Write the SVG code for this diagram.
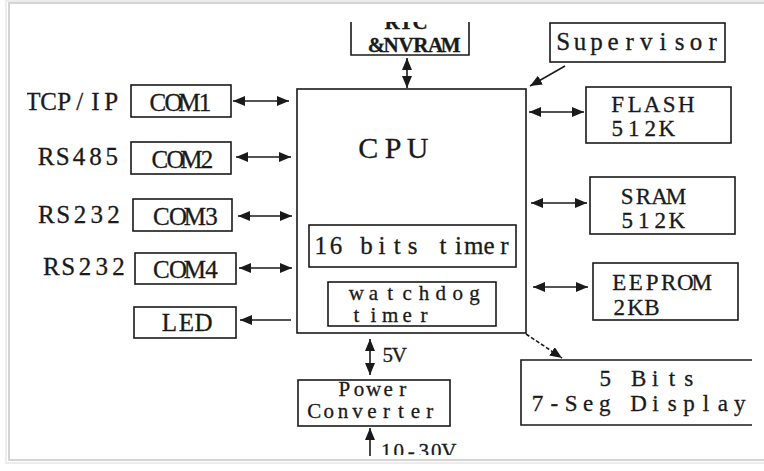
<svg xmlns="http://www.w3.org/2000/svg" width="764" height="471" viewBox="0 0 764 471">
<style>
.box{fill:none;stroke:#1a1a1a;stroke-width:1.6}
.ln{fill:none;stroke:#1a1a1a;stroke-width:1.6}
.t{font-family:'Liberation Serif','DejaVu Serif',serif;fill:#1a1a1a;stroke:#1a1a1a;stroke-width:0.3;font-size:25px;text-anchor:middle}
.m{font-size:23px}
.s{font-size:21px}
.b{font-size:30px}
</style>
<defs>
<marker id="ah" markerUnits="userSpaceOnUse" markerWidth="12" markerHeight="10" refX="12" refY="5" orient="auto-start-reverse" viewBox="0 0 12 10">
<path d="M0,0 L12,5 L0,10 z" fill="#1a1a1a"/>
</marker>
<clipPath id="cTop"><rect x="0" y="22" width="764" height="449"/></clipPath>
<clipPath id="cLeft"><rect x="27" y="0" width="737" height="471"/></clipPath>
<clipPath id="cBot"><rect x="0" y="0" width="764" height="455"/></clipPath>
</defs>
<rect x="0" y="0" width="764" height="471" fill="#ffffff"/>
<g id="frame">
<rect x="9" y="3" width="770" height="457" fill="none" stroke="#d4d4d4" stroke-width="2"/>
<rect x="6" y="1" width="776" height="462" fill="none" stroke="#ececec" stroke-width="2"/>
</g>
<g id="rtc">
<path class="box" d="M351,22 V55 H469 V22"/>
<text class="t s" x="392 406 420" y="29" font-size="17" font-weight="bold" clip-path="url(#cTop)">RTC</text>
<text class="t s" x="376.4 391.2 406 420.9 435.7 450.6" y="52" font-size="18" font-weight="bold">&amp;NVRAM</text>
</g>
<g id="cpu">
<rect class="box" x="297" y="89" width="229" height="244"/>
<text class="t b" x="368.3 393 417.7" y="158">CPU</text>
</g>
<g id="timer16">
<rect class="box" x="309" y="225" width="207" height="42"/>
<text class="t" x="320.7 336 351.3 366.6 381.9 397.2 412.5 427.8 443.1 458.4 473.8 489.1 504.3" y="254">16 bits timer</text>
</g>
<g id="watchdog">
<rect class="box" x="328" y="282" width="168" height="44"/>
<text class="t s" x="356.4 373.3 390.2 407.1 423.9 440.8 457.7 474.6" y="300">watchdog</text>
<text class="t s" x="356.4 373.3 390.2 407.1 423.9" y="322">timer</text>
</g>
<g id="com1">
<rect class="box" x="131" y="85" width="100" height="32"/>
<text class="t" x="157.9 173.6 189.4 205.1" y="111">COM1</text>
<text class="t" x="32.8 48.5 64.2 79.8 95.5 111.2" y="110" clip-path="url(#cLeft)">TCP/IP</text>
</g>
<g id="com2">
<rect class="box" x="131" y="142" width="100" height="32"/>
<text class="t" x="159.9 175.6 191.4 207.1" y="168">COM2</text>
<text class="t" x="46.2 62.6 79 95.4 111.8" y="165">RS485</text>
</g>
<g id="com3">
<rect class="box" x="133" y="199" width="99" height="32"/>
<text class="t" x="161.4 178.1 194.9 211.6" y="225">COM3</text>
<text class="t" x="46.4 63.2 80 96.8 113.6" y="223">RS232</text>
</g>
<g id="com4">
<rect class="box" x="135" y="253" width="101" height="31"/>
<text class="t" x="161.4 178.1 194.9 211.6" y="278">COM4</text>
<text class="t" x="51.4 68.2 85 101.8 118.6" y="275">RS232</text>
</g>
<g id="led">
<rect class="box" x="134" y="307" width="102" height="31"/>
<text class="t" x="169.5 186.5 203.5" y="331">LED</text>
</g>
<g id="power">
<rect class="box" x="298" y="380" width="152" height="46"/>
<text class="t s" x="344.3 358.9 373.5 388.1 402.7" y="396" font-size="16">Power</text>
<text class="t s" x="314.2 328.7 343.1 357.5 372 386.4 400.9 415.3 429.8" y="418" font-size="16">Converter</text>
</g>
<g id="supervisor">
<rect class="box" x="550" y="23" width="175" height="39"/>
<text class="t" x="563.3 579.9 596.5 613.1 629.7 646.3 662.9 679.5 696.1 712.7" y="50">Supervisor</text>
</g>
<g id="flash">
<rect class="box" x="586" y="87" width="145" height="56"/>
<text class="t m" x="617.6 634.8 652 669.2 686.4" y="112">FLASH</text>
<text class="t m" x="617.25 633.75 650.25 666.75" y="136">512K</text>
</g>
<g id="sram">
<rect class="box" x="590" y="177" width="145" height="57"/>
<text class="t m" x="627.1 643.4 659.6 675.9" y="204">SRAM</text>
<text class="t m" x="627.25 643.75 660.25 676.75" y="228">512K</text>
</g>
<g id="eeprom">
<rect class="box" x="593" y="263" width="145" height="57"/>
<text class="t m" x="619.25 635.75 652.25 668.75 685.25 701.75" y="290">EEPROM</text>
<text class="t m" x="619.2 635.5 651.8" y="315">2KB</text>
</g>
<g id="display">
<path class="box" d="M752,360 H521 V425 H752"/>
<text class="t m" x="605.3 622 638.7 655.3 672 688.7" y="386">5 Bits</text>
<text class="t m" x="537.4 554.3 571.1 588 604.8 621.7 638.5 655.4 672.2 689.1 706 722.8 739.7" y="411">7-Seg Display</text>
</g>
<g id="labels">
<text class="t s" x="387.75 399.25" y="362" font-size="18">5V</text>
<text class="t s" x="386.25 398.75 411.25 423.75 436.25 448.75" y="458" font-size="18" clip-path="url(#cBot)">10-30V</text>
</g>
<g id="connectors">
<line class="ln" x1="407" y1="58" x2="407" y2="88" marker-start="url(#ah)" marker-end="url(#ah)"/>
<line class="ln" x1="233" y1="101" x2="289" y2="101" marker-start="url(#ah)" marker-end="url(#ah)"/>
<line class="ln" x1="236" y1="157" x2="291" y2="157" marker-start="url(#ah)" marker-end="url(#ah)"/>
<line class="ln" x1="238" y1="216" x2="292" y2="216" marker-start="url(#ah)" marker-end="url(#ah)"/>
<line class="ln" x1="239" y1="268" x2="292" y2="268" marker-start="url(#ah)" marker-end="url(#ah)"/>
<line class="ln" x1="291" y1="320" x2="240" y2="320" marker-end="url(#ah)"/>
<line class="ln" x1="529" y1="112" x2="584" y2="112" marker-start="url(#ah)" marker-end="url(#ah)"/>
<line class="ln" x1="531" y1="203" x2="587" y2="203" marker-start="url(#ah)" marker-end="url(#ah)"/>
<line class="ln" x1="533" y1="287" x2="588" y2="287" marker-start="url(#ah)" marker-end="url(#ah)"/>
<line class="ln" x1="565" y1="66" x2="530" y2="86" stroke-width="1.2" marker-end="url(#ah)"/>
<line class="ln" x1="526" y1="334" x2="562" y2="358" stroke-width="1.2" stroke-dasharray="4 2" marker-end="url(#ah)"/>
<line class="ln" x1="370" y1="339" x2="370" y2="375" marker-start="url(#ah)" marker-end="url(#ah)"/>
<line class="ln" x1="370" y1="456" x2="370" y2="428" marker-end="url(#ah)"/>
</g>
</svg>
